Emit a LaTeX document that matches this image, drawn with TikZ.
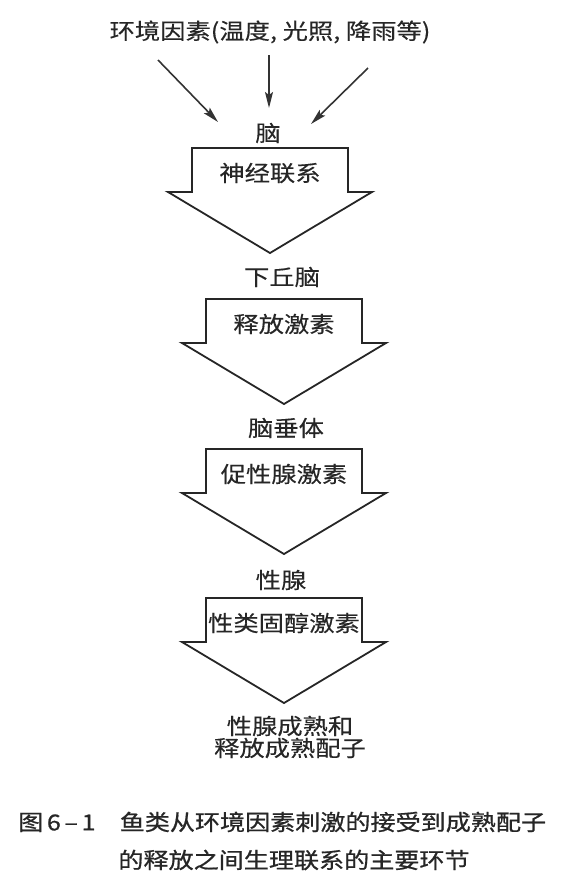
\documentclass[tikz,border=0pt]{standalone}
\usepackage{fontspec}
\usepackage{tikz}
\usetikzlibrary{arrows.meta}
\newfontfamily\cjk[FakeStretch=1.15,FakeBold=0.3]{Noto Sans CJK SC}
\newfontfamily\cjkcap[FakeStretch=1.14,FakeBold=0.8]{Noto Sans CJK SC}

\begin{document}
\begin{tikzpicture}[x=1pt, y=-1pt,
  every node/.style={text=black!85, inner sep=0pt},
  stage/.style={font=\cjk\fontsize{22}{22}\selectfont, align=center},
  caption/.style={font=\cjkcap\fontsize{22}{24}\selectfont},
  cue/.style={draw=black!80, line width=1.6pt, -{Stealth[length=16pt, width=8pt, inset=3pt]}},
  blockline/.style={draw=black!85, line width=1.8pt, line join=miter},
  pics/blockarrow/.style={code={
    \draw[blockline] (-78,0) -- (78,0) -- (78,44) -- (102,44) -- (0,105)
      -- (-102,44) -- (-78,44) -- cycle;
  }}
]
\useasboundingbox (0,0) rectangle (571,895);

\node[stage] (env) at (270,32) {环境因素(温度, 光照, 降雨等)};
\node[stage] (brain) at (268,133) {脑};
\node[stage] (hypo) at (282,277) {下丘脑};
\node[stage] (pit) at (286,428) {脑垂体};
\node[stage] (gonad) at (281,580) {性腺};
\node[stage] (mature) at (290,737) {性腺成熟和\\释放成熟配子};

\coordinate (cueL) at (158,60);
\coordinate (cueM) at (269,55);
\coordinate (cueR) at (368,68);
\coordinate (hitL) at (218,122);
\coordinate (hitM) at (269,108);
\coordinate (hitR) at (311,124);
\draw[cue] (cueL) -- (hitL);
\draw[cue] (cueM) -- (hitM);
\draw[cue] (cueR) -- (hitR);

\foreach \x/\y/\txt/\name in {270/148/神经联系/nerve, 284/299/释放激素/rh,
    284/449/促性腺激素/gth, 284/598/性类固醇激素/steroid} {
  \pic at (\x,\y) {blockarrow};
  \node[stage] (\name) at (\x,\y+25) {\txt};
}

\node[caption, anchor=west] (cap1) at (18,822) {图\,6\,–\,1\hspace{1.1em}鱼类从环境因素刺激的接受到成熟配子};
\node[caption] (cap2) at (294,860) {的释放之间生理联系的主要环节};
\end{tikzpicture}
\end{document}
